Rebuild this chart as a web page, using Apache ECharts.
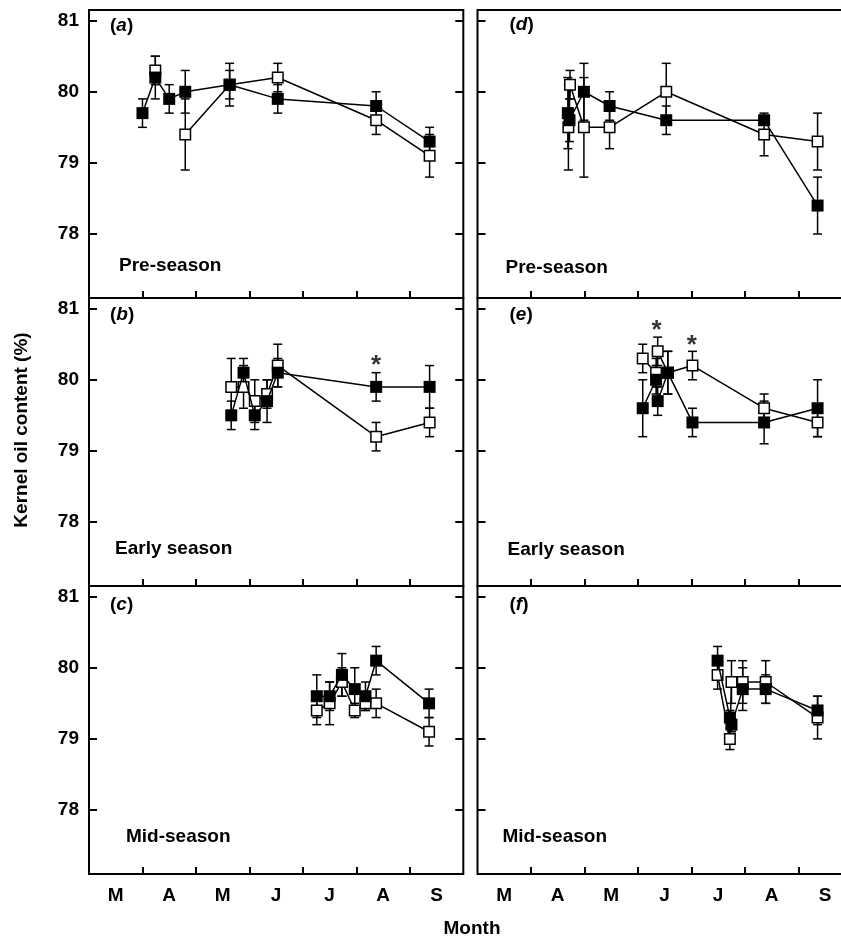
<!DOCTYPE html>
<html>
<head>
<meta charset="utf-8">
<script src="https://cdn.jsdelivr.net/npm/echarts@6/dist/echarts.min.js"></script>
<style>
  html, body { margin: 0; padding: 0; background: #fff; overflow: hidden; }
  #wrap { width: 841px; height: 940px; overflow: hidden; }
  /* the right-hand panels run past the page edge in the original figure */
  #chart { width: 870px; height: 940px; }
</style>
</head>
<body>
<div id="wrap"><div id="chart"></div></div>
<script>
// months from 1 March (0) to 30 September (7)
const months = ["M", "A", "M", "J", "J", "A", "S"];
const monthTicks = [1, 2, 3, 4, 5, 6];
const monthLabelPos = [0.5, 1.5, 2.5, 3.5, 4.5, 5.5, 6.5];
const yTicks = [78, 79, 80, 81];
const panelLetters = ["a", "b", "c", "d", "e", "f"];
const seasons = ["Pre-season", "Early season", "Mid-season"];

// [month, kernel oil %, error]; null = gap in the line
const aFilled = [[1.00, 79.7, 0.2], [1.24, 80.2, 0.3], [1.50, 79.9, 0.2], [1.80, 80.0, 0.3], [2.63, 80.1, 0.3], [3.53, 79.9, 0.2], [5.37, 79.8, 0.2], [6.37, 79.3, 0.2]];
const aOpen = [[1.24, 80.3, 0.2], null, [1.80, 79.4, 0.5], [2.63, 80.1, 0.2], [3.53, 80.2, 0.2], [5.37, 79.6, 0.2], [6.37, 79.1, 0.3]];

const bFilled = [[2.66, 79.5, 0.2], [2.89, 80.1, 0.2], [3.10, 79.5, 0.2], [3.33, 79.7, 0.3], [3.53, 80.1, 0.2], [5.37, 79.9, 0.2], [6.37, 79.9, 0.3]];
const bOpen = [[2.66, 79.9, 0.4], [2.89, 79.9, 0.3], [3.10, 79.7, 0.3], [3.33, 79.8, 0.2], [3.53, 80.2, 0.3], [5.37, 79.2, 0.2], [6.37, 79.4, 0.2]];
const bStars = [[5.37, 80.30]];

const cFilled = [[4.26, 79.6, 0.3], [4.50, 79.6, 0.2], [4.73, 79.9, 0.3], [4.97, 79.7, 0.3], [5.17, 79.6, 0.2], [5.37, 80.1, 0.2], [6.36, 79.5, 0.2]];
const cOpen = [[4.26, 79.4, 0.2], [4.50, 79.5, 0.3], [4.73, 79.8, 0.2], [4.97, 79.4, 0.1], [5.17, 79.5, 0.1], [5.37, 79.5, 0.2], [6.36, 79.1, 0.2]];

const dFilled = [[1.69, 79.7, 0.5], [1.72, 79.6, 0.3], [1.99, 80.0, 0.4], [2.47, 79.8, 0.2], [3.53, 79.6, 0.2], [5.36, 79.6, 0.05], [6.36, 78.4, 0.4]];
const dOpen = [[1.70, 79.5, 0.6], [1.73, 80.1, 0.2], [1.99, 79.5, 0.7], [2.47, 79.5, 0.3], [3.53, 80.0, 0.4], [5.36, 79.4, 0.3], [6.36, 79.3, 0.4]];

const eFilled = [[3.09, 79.6, 0.4], [3.34, 80.0, 0.2], [3.37, 79.7, 0.2], [3.56, 80.1, 0.3], [4.02, 79.4, 0.2], [5.36, 79.4, 0.3], [6.36, 79.6, 0.4]];
const eOpen = [[3.09, 80.3, 0.2], [3.34, 80.1, 0.2], [3.37, 80.4, 0.2], [3.56, 80.1, 0.3], [4.02, 80.2, 0.2], [5.36, 79.6, 0.2], [6.36, 79.4, 0.2]];
const eStars = [[3.35, 80.79], [4.01, 80.58]];

const fFilled = [[4.49, 80.1, 0.2], [4.72, 79.3, 0.1], [4.75, 79.2, 0.1], [4.96, 79.7, 0.3], [5.39, 79.7, 0.2], [6.36, 79.4, 0.2]];
const fOpen = [[4.49, 79.9, 0.2], [4.72, 79.0, 0.15], [4.75, 79.8, 0.3], [4.96, 79.8, 0.3], [5.39, 79.8, 0.3], [6.36, 79.3, 0.3]];

const FONT = "'Liberation Sans', Arial, Helvetica, sans-serif";

// panel layout: column lefts, row tops
const colLeft = [89, 477.5];
const rowTop = [10, 298, 586];
const panelW = 374.3;
const panelH = 288;

const panels = [
  { col: 0, row: 0, filled: aFilled, open: aOpen, stars: [], letterAt: [21, 16], seasonAt: [30, 256] },
  { col: 0, row: 1, filled: bFilled, open: bOpen, stars: bStars, letterAt: [21, 17], seasonAt: [26, 251] },
  { col: 0, row: 2, filled: cFilled, open: cOpen, stars: [], letterAt: [21, 19], seasonAt: [37, 251] },
  { col: 1, row: 0, filled: dFilled, open: dOpen, stars: [], letterAt: [32, 15], seasonAt: [28, 258] },
  { col: 1, row: 1, filled: eFilled, open: eOpen, stars: eStars, letterAt: [32, 17], seasonAt: [30, 252] },
  { col: 1, row: 2, filled: fFilled, open: fOpen, stars: [], letterAt: [32, 19], seasonAt: [25, 251] },
];

function errorItem(params, api) {
  const x = api.value(0);
  const lo = api.coord([x, api.value(1)]);
  const hi = api.coord([x, api.value(2)]);
  const cap = 4.5;
  const style = { stroke: "#000", lineWidth: 1.5 };
  return {
    type: "group",
    children: [
      { type: "line", shape: { x1: lo[0], y1: lo[1], x2: hi[0], y2: hi[1] }, style },
      { type: "line", shape: { x1: lo[0] - cap, y1: lo[1], x2: lo[0] + cap, y2: lo[1] }, style },
      { type: "line", shape: { x1: hi[0] - cap, y1: hi[1], x2: hi[0] + cap, y2: hi[1] }, style },
    ],
  };
}

const toErr = (pts) => pts.filter((p) => p).map((p) => [p[0], p[1] - p[2], p[1] + p[2]]);
const toLine = (pts) => pts.map((p) => (p ? [p[0], p[1]] : ["-", "-"]));

const grids = [], xAxes = [], yAxes = [], series = [], graphics = [];

panels.forEach((p, i) => {
  const left = colLeft[p.col];
  const top = rowTop[p.row];
  grids.push({ left, top, width: panelW, height: panelH, show: true, borderColor: "#000", borderWidth: 2 });

  xAxes.push({
    type: "value", gridIndex: i, min: 0, max: 7,
    axisLine: { show: false, onZero: false },
    axisTick: { show: true, inside: true, length: 7, customValues: monthTicks, lineStyle: { color: "#000", width: 2 } },
    splitLine: { show: false },
    axisLabel: {
      show: p.row === 2, customValues: monthLabelPos, margin: 12,
      formatter: (v) => months[Math.floor(v)],
      color: "#000", fontSize: 19, fontWeight: "bold", fontFamily: FONT,
    },
  });

  const yBase = {
    type: "value", gridIndex: i, min: 77.1, max: 81.15,
    axisLine: { show: false },
    splitLine: { show: false },
    axisTick: { show: true, inside: true, length: 8, customValues: yTicks, lineStyle: { color: "#000", width: 2 } },
  };
  yAxes.push(Object.assign({}, yBase, {
    position: "left",
    axisLabel: { show: p.col === 0, customValues: yTicks, margin: 10, color: "#000", fontSize: 19, fontWeight: "bold", fontFamily: FONT },
  }));
  yAxes.push(Object.assign({}, yBase, { position: "right", axisLabel: { show: false } }));

  const yIdx = i * 2;
  series.push({
    type: "custom", xAxisIndex: i, yAxisIndex: yIdx, renderItem: errorItem,
    data: toErr(p.filled).concat(toErr(p.open)), encode: { x: 0, y: [1, 2] }, z: 1, silent: true,
  });
  series.push({
    type: "line", xAxisIndex: i, yAxisIndex: yIdx, data: toLine(p.open), z: 2,
    symbol: "rect", symbolSize: 10.5, connectNulls: false,
    itemStyle: { color: "#fff", borderColor: "#000", borderWidth: 1.5 },
    lineStyle: { color: "#000", width: 1.5 }, animation: false,
  });
  series.push({
    type: "line", xAxisIndex: i, yAxisIndex: yIdx, data: toLine(p.filled), z: 3,
    symbol: "rect", symbolSize: 12,
    itemStyle: { color: "#000" },
    lineStyle: { color: "#000", width: 1.5 }, animation: false,
  });
  if (p.stars.length) {
    series.push({
      type: "scatter", xAxisIndex: i, yAxisIndex: yIdx, data: p.stars, z: 4,
      symbolSize: 0, silent: true,
      label: { show: true, position: "inside", formatter: "*", offset: [0, 7], color: "#000", fontSize: 26, fontWeight: "bold", fontFamily: FONT },
    });
  }

  graphics.push({
    type: "text", x: left + p.letterAt[0], y: top + p.letterAt[1],
    style: {
      text: "{n|(}{i|" + panelLetters[i] + "}{n|)}",
      verticalAlign: "middle",
      rich: {
        n: { fontSize: 19, fontWeight: "bold", fontFamily: FONT, fill: "#000" },
        i: { fontSize: 19, fontWeight: "bold", fontStyle: "italic", fontFamily: FONT, fill: "#000" },
      },
    },
  });
  graphics.push({
    type: "text", x: left + p.seasonAt[0], y: top + p.seasonAt[1],
    style: { text: seasons[p.row], verticalAlign: "middle", fontSize: 19, fontWeight: "bold", fontFamily: FONT, fill: "#000" },
  });
});

graphics.push({
  type: "text", x: 22, y: 430, rotation: Math.PI / 2,
  style: { text: "Kernel oil content (%)", align: "center", verticalAlign: "middle", fontSize: 19, fontWeight: "bold", fontFamily: FONT, fill: "#000" },
});
graphics.push({
  type: "text", x: 472, y: 929,
  style: { text: "Month", align: "center", verticalAlign: "middle", fontSize: 19, fontWeight: "bold", fontFamily: FONT, fill: "#000" },
});

const chart = echarts.init(document.getElementById("chart"));
chart.setOption({
  animation: false,
  backgroundColor: "#fff",
  grid: grids,
  xAxis: xAxes,
  yAxis: yAxes,
  series,
  graphic: graphics,
});
</script>
</body>
</html>
